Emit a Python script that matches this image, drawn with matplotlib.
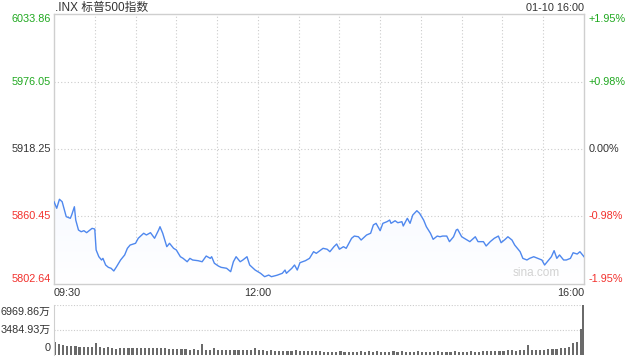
import numpy as np
import matplotlib
matplotlib.use("Agg")
import matplotlib.pyplot as plt
from matplotlib.patches import Polygon

plt.rcParams['font.family'] = ['Liberation Sans', 'Noto Sans CJK SC', 'DejaVu Sans']

# chart texts
title = ".INX 标普500指数"
stamp = "01-10 16:00"
time_labels = ["09:30", "12:00", "16:00"]
time_label_pos = [0, 150, 390]

# price axis levels
prev_close = 5918.25
price_levels = [6033.86, 5976.05, 5918.25, 5860.45, 5802.64]
pct_labels = ["+1.95%", "+0.98%", "0.00%", "-0.98%", "-1.95%"]

# minute of session (from 09:30) and index value
minutes = [0, 2, 4, 6, 7, 9, 12, 13, 15, 16, 18, 20, 22, 24, 28, 30, 31, 33, 35, 36,
           38, 40, 42, 44, 46, 49, 52, 54, 56, 60, 62, 66, 68, 71, 74, 77, 78, 80, 83, 85,
           88, 90, 93, 95, 98, 100, 102, 106, 109, 112, 115, 116, 118, 121, 123, 127, 130, 132, 134, 137,
           139, 142, 144, 148, 152, 155, 158, 160, 164, 168, 170, 171, 175, 177, 179, 181, 185, 188, 191, 193,
           197, 198, 201, 203, 206, 208, 210, 213, 215, 219, 221, 224, 226, 230, 233, 235, 237, 240, 242, 245,
           247, 248, 251, 253, 256, 257, 260, 262, 264, 267, 269, 272, 274, 277, 279, 282, 284, 286, 289, 291,
           294, 296, 297, 300, 304, 306, 310, 312, 316, 318, 321, 324, 327, 329, 332, 334, 337, 339, 343, 345,
           348, 350, 353, 356, 359, 361, 364, 366, 368, 370, 372, 375, 377, 380, 382, 385, 387, 390]
prices = [5873.1, 5867.5, 5875.2, 5873.1, 5868.8, 5860.3, 5858.9, 5861.7, 5868.8, 5857.4,
          5848.9, 5847.4, 5848.3, 5846.6, 5850.3, 5849.7, 5831.8, 5826.0, 5823.2, 5824.6,
          5818.9, 5816.9, 5816.1, 5813.8, 5817.4, 5823.2, 5827.5, 5833.2, 5836.0, 5837.5,
          5841.8, 5846.1, 5844.6, 5846.6, 5841.8, 5848.9, 5851.7, 5846.1, 5834.6, 5837.5,
          5833.2, 5831.8, 5826.0, 5824.6, 5821.7, 5824.6, 5823.2, 5822.6, 5821.7, 5826.6,
          5824.6, 5826.0, 5820.4, 5818.0, 5816.9, 5816.1, 5813.2, 5821.7, 5826.0, 5821.7,
          5823.2, 5826.0, 5818.9, 5814.6, 5811.8, 5808.9, 5810.3, 5808.9, 5810.1, 5811.8,
          5814.6, 5811.8, 5816.1, 5818.9, 5814.6, 5820.9, 5822.6, 5824.6, 5830.3, 5828.9,
          5832.4, 5833.2, 5832.4, 5830.3, 5834.6, 5836.9, 5832.4, 5834.6, 5833.2, 5841.8,
          5843.7, 5843.1, 5840.3, 5844.6, 5846.1, 5853.2, 5854.6, 5848.3, 5854.6, 5856.0,
          5857.4, 5854.6, 5856.8, 5855.1, 5856.0, 5852.3, 5858.9, 5854.6, 5861.7, 5865.4,
          5863.2, 5857.4, 5851.7, 5846.1, 5840.9, 5843.7, 5843.1, 5843.7, 5843.7, 5838.9,
          5843.1, 5848.9, 5849.5, 5843.1, 5840.3, 5838.9, 5843.1, 5838.9, 5838.9, 5835.2,
          5838.9, 5841.8, 5843.7, 5838.0, 5840.9, 5843.1, 5840.3, 5836.0, 5830.3, 5824.6,
          5823.2, 5824.6, 5826.0, 5824.6, 5823.2, 5818.9, 5823.2, 5826.0, 5831.2, 5824.6,
          5827.5, 5823.2, 5823.2, 5824.6, 5829.4, 5828.3, 5830.3, 5826.0]

# volume (万), one bar per 3 minutes, plus the closing bar
vol_max = 6969.86
volume = [1850, 1490, 1390, 1250, 1250, 1210, 1180, 1120, 1110, 1050,
          1630, 1180, 1040, 1050, 980, 900, 1040, 970, 980, 990,
          1020, 970, 1040, 980, 960, 990, 970, 910, 900, 840,
          800, 830, 770, 760, 900, 700, 1490, 700, 690, 930,
          700, 740, 650, 700, 760, 690, 650, 700, 660, 970,
          690, 650, 620, 630, 620, 560, 620, 560, 610, 630,
          570, 620, 560, 620, 550, 490, 460, 420, 460, 420,
          490, 420, 460, 420, 460, 510, 460, 490, 420, 510,
          460, 420, 460, 490, 420, 490, 420, 460, 420, 510,
          460, 420, 460, 420, 490, 420, 460, 420, 490, 420,
          460, 420, 490, 460, 420, 510, 560, 560, 560, 510,
          490, 630, 700, 560, 700, 700, 1390, 700, 700, 740,
          740, 770, 770, 840, 910, 970, 1110, 1670, 1850, 3620]
vol_times = list(np.arange(0, 390, 3)) + [388.6]
volume = volume + [vol_max]

green = "#1fa81f"
red = "#f2302c"
dark = "#333333"
line_c = "#4f88ee"
frame_c = "#cfcfcf"
grid_c = "#cccccc"

fig = plt.figure(figsize=(6.4, 3.6), dpi=100)
ax = fig.add_axes([54 / 640, 1 - 284 / 360, 530 / 640, 270 / 360])
axv = fig.add_axes([54 / 640, 1 - 355 / 360, 530 / 640, 50 / 360])

lo, hi = price_levels[-1], price_levels[0]
ax.set_xlim(0, 390)
ax.set_ylim(lo, hi)

# gradient fill under the line
grad = np.linspace(0, 1, 256).reshape(-1, 1)
img = ax.imshow(grad, extent=[0, 390, lo, hi], origin="lower", aspect="auto",
                cmap=matplotlib.colors.LinearSegmentedColormap.from_list(
                    "f", ["#ffffff", "#e6eeff"]), zorder=1)
poly = Polygon(list(zip(minutes, prices)) + [(390, lo), (0, lo)], closed=True,
               facecolor="none", edgecolor="none")
ax.add_patch(poly)
img.set_clip_path(poly)

ax.plot(minutes, prices, color=line_c, lw=1.0, zorder=3)

# grid
for t in range(30, 390, 30):
    ax.axvline(t, color=grid_c, lw=0.8, ls=(0, (1, 2)), zorder=0)
for lv in price_levels[1:-1]:
    ax.axhline(lv, color=grid_c, lw=0.8, ls=(0, (1, 2)), zorder=0)

ax.set_xticks([])
ax.set_yticks([])
for s in ax.spines.values():
    s.set_color(frame_c)
    s.set_linewidth(1)

colors = [green, green, dark, red, red]
ytr = ax.get_yaxis_transform()
for i, (lv, pl, c) in enumerate(zip(price_levels, pct_labels, colors)):
    va = "top" if i == 0 else ("bottom" if i == len(price_levels) - 1 else "center")
    ax.text(-0.006, lv, f"{lv:.2f}", transform=ytr, ha="right", va=va, color=c, fontsize=7.8)
    ax.text(1.008, lv, pl, transform=ytr, ha="left", va=va, color=c, fontsize=7.8)

ax.text(0.002, 1.022, title, transform=ax.transAxes, ha="left", va="center",
        color=dark, fontsize=8.5)
ax.text(1.0, 1.022, stamp, transform=ax.transAxes, ha="right", va="center",
        color=dark, fontsize=7.8)

has = ["left", "center", "right"]
for lab, t, h in zip(time_labels, time_label_pos, has):
    ax.text(t, -0.033, lab, transform=ax.get_xaxis_transform(), ha=h, va="center",
            color=dark, fontsize=7.8)

ax.text(0.955, 0.02, "sina.com", transform=ax.transAxes, ha="right", va="bottom",
        color="#d2d2d2", fontsize=8.5)

# volume panel
axv.bar(vol_times, volume, width=1.6, align="edge", color="#6a6a6a", lw=0)
axv.set_xlim(0, 390)
axv.set_ylim(0, vol_max)
axv.set_xticks([])
axv.set_yticks([])
for s in ["top", "right", "bottom"]:
    axv.spines[s].set_visible(False)
axv.spines["left"].set_color(frame_c)
for lv in [vol_max, vol_max / 2]:
    axv.axhline(lv, color=grid_c, lw=0.8, ls=(0, (1, 1.5)), zorder=0)
vtr = axv.get_yaxis_transform()
axv.text(-0.006, vol_max * 0.86, f"{vol_max:.2f}万", transform=vtr, ha="right", va="center",
         color=dark, fontsize=7.8)
axv.text(-0.006, vol_max / 2, f"{vol_max / 2:.2f}万", transform=vtr, ha="right", va="center",
         color=dark, fontsize=7.8)
axv.text(-0.006, vol_max * 0.14, "0", transform=vtr, ha="right", va="center",
         color=dark, fontsize=7.8)

fig.savefig("out.png", dpi=100)
